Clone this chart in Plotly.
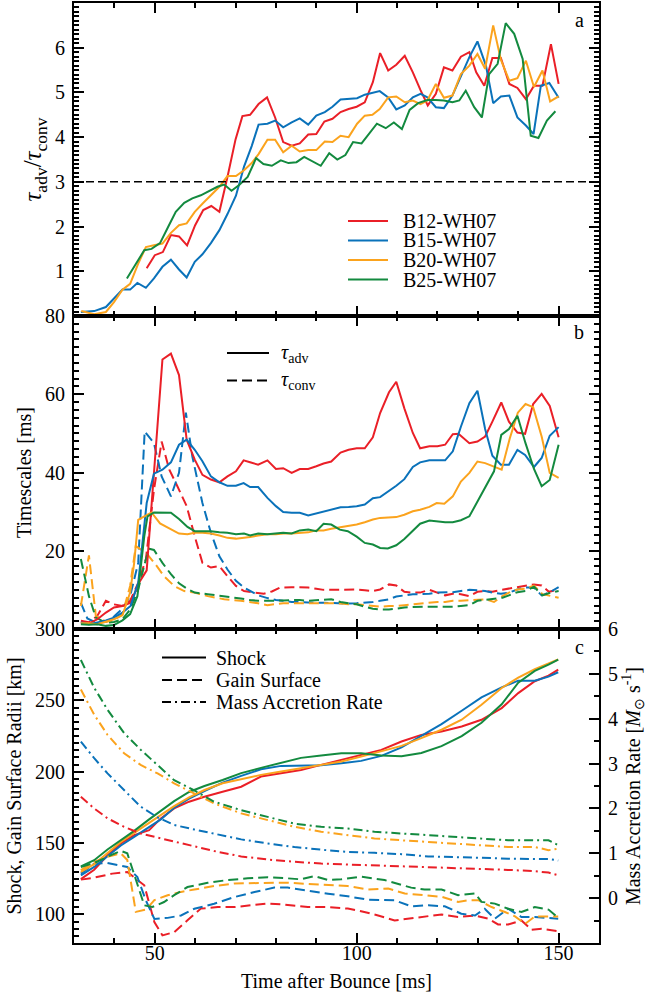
import numpy as np
import plotly.graph_objects as go

FONT = "Liberation Serif"

# ---------------- data ----------------
MODELS = ["B12-WH07", "B15-WH07", "B20-WH07", "B25-WH07"]
COLORS = ["#EA1F27", "#0A72BA", "#FBA31D", "#138A3F"]
THRESHOLD = 3.0

# panel a : tau_adv / tau_conv
a_t_B12 = [48, 50, 52, 54, 56, 58, 60, 62, 64, 66, 68, 70, 71.7, 73.6, 75.7, 77.8, 79.8, 81.8, 83.9, 85.9,
           88, 90, 92, 94, 96, 98, 100, 102, 104, 105.8, 107.8, 109.8, 111.9, 113.9, 115.8, 117.6, 119.6, 121.6,
           123.7, 125.8, 127.9, 129.6, 131.6, 133.6, 135.7, 137.8, 139.8, 141.9, 143.9, 146, 148.1, 150]
a_B12 = [1.07, 1.36, 1.43, 1.81, 1.78, 1.58, 2.03, 2.37, 2.46, 2.33, 3.11, 3.95, 4.47, 4.50, 4.74, 4.89, 4.44,
         3.89, 3.81, 3.86, 4.06, 4.07, 4.35, 4.41, 4.56, 4.63, 4.68, 4.78, 5.23, 5.88, 5.49, 5.62, 5.82, 5.45,
         5.05, 4.71, 4.97, 5.56, 5.49, 5.80, 5.90, 5.45, 5.15, 5.77, 5.77, 5.19, 5.10, 4.85, 5.15, 5.15, 6.08, 5.19]
a_t_B15 = [31.7, 35, 37.9, 39.9, 42, 43.9, 45.7, 47.8, 49.8, 51.9, 54, 56, 57.9, 59.9, 61.8, 63.9, 66, 68, 70.1,
           72.1, 74, 75.7, 77.9, 79.8, 81.8, 83.9, 85.9, 88, 90, 92.1, 94, 96, 98, 100.1, 102, 103.9, 105.7,
           107.8, 109.8, 111.9, 113.9, 115.8, 117.5, 119.6, 121.6, 123.7, 125.8, 127.9, 129.9, 132, 133.8,
           135.7, 137.8, 139.8, 141.9, 143.8, 145.6, 147.7, 150]
a_B15 = [0.09, 0.11, 0.20, 0.39, 0.59, 0.59, 0.74, 0.63, 0.84, 1.10, 1.26, 1.04, 0.86, 1.21, 1.38, 1.63, 1.92,
         2.28, 2.69, 3.34, 3.80, 4.28, 4.30, 4.37, 4.22, 4.33, 4.42, 4.28, 4.48, 4.56, 4.68, 4.84, 4.85, 4.87,
         4.95, 5.00, 5.03, 4.89, 4.62, 4.71, 4.89, 4.97, 4.89, 4.67, 4.65, 4.93, 5.38, 5.79, 6.14, 5.60, 4.76,
         4.91, 4.93, 4.44, 4.26, 4.07, 5.15, 5.21, 4.88]
a_t_B20 = [31.8, 35, 37.9, 39.9, 42, 43.9, 45.9, 47.8, 49.8, 51.9, 54, 56, 57.9, 59.9, 61.8, 63.9, 66, 68, 70.1,
           72.1, 74, 75.7, 77.9, 79.8, 81.8, 83.9, 85.9, 88, 90, 92.1, 94, 96, 98, 100.1, 102, 103.9, 105.7,
           107.8, 109.8, 111.9, 113.9, 115.8, 117.5, 119.6, 121.6, 123.7, 125.8, 127.9, 129.9, 131.8, 133.8,
           135.7, 137.8, 139.8, 141.9, 143.9, 146, 147.9, 150]
a_B20 = [0.11, 0.04, 0.09, 0.31, 0.59, 0.72, 1.17, 1.54, 1.58, 1.62, 1.86, 2.03, 2.07, 2.33, 2.51, 2.70, 2.89,
         3.13, 3.13, 3.26, 3.42, 3.62, 3.94, 3.94, 3.66, 3.81, 3.68, 3.71, 3.71, 3.90, 3.89, 4.03, 4.00, 4.30,
         4.48, 4.50, 4.63, 4.89, 4.91, 4.78, 4.82, 4.74, 4.82, 5.19, 4.88, 4.93, 5.41, 5.60, 5.86, 5.53, 6.50,
         5.73, 5.26, 5.32, 5.71, 5.12, 5.49, 4.80, 4.91]
a_t_B25 = [43.1, 45, 47.4, 49.2, 51.3, 53.3, 55.2, 57.3, 59.3, 61.4, 63.5, 65.5, 67.2, 69, 70.9, 73, 75.1, 76.9,
           79, 81.2, 83.1, 85.1, 87, 89.1, 91.1, 93.2, 95.2, 97.2, 99.1, 101.2, 103.2, 105, 107.2, 109.2, 111.2,
           113.1, 115.2, 117.5, 119.6, 121.6, 123.7, 125.4, 127, 129.1, 131, 132.8, 134.9, 136.9, 139, 141.1,
           143.1, 145, 147.1, 149.2]
a_B25 = [0.84, 1.13, 1.47, 1.50, 1.63, 1.99, 2.33, 2.53, 2.63, 2.70, 2.79, 2.89, 2.94, 2.80, 2.93, 3.11, 3.53,
         3.40, 3.36, 3.48, 3.42, 3.44, 3.56, 3.46, 3.36, 3.64, 3.50, 3.60, 3.89, 3.86, 4.09, 4.30, 4.20, 4.33,
         4.18, 4.61, 4.76, 4.83, 4.83, 4.82, 4.78, 4.82, 5.04, 4.67, 4.44, 5.41, 5.64, 6.55, 6.31, 5.75, 4.03,
         3.98, 4.37, 4.58]

# panel b : timescales [ms]  (solid = tau_adv, dashed = tau_conv)
adv_t_B12 = [31.7, 33.7, 35.8, 37.9, 39.9, 42, 44, 46.1, 48, 51.9, 54, 56, 57.9, 59.9, 61.8, 63.9, 66, 68, 70.1,
             72, 73.6, 75.6, 77.9, 80, 81.8, 83.9, 85.9, 88, 90, 91.8, 93.7, 96, 98, 100, 102, 104, 105.8, 108,
             109.8, 111.8, 113.9, 115.7, 118, 120, 121.9, 123.8, 125.2, 127.9, 129.9, 131.8, 133.6, 135.8,
             137.7, 139.8, 141.7, 143.7, 145.8, 147.8, 150]
adv_B12 = [1.8, 1.4, 2.5, 4.2, 5.5, 5.9, 6.7, 11.8, 15.0, 68.9, 70.4, 64.9, 48.4, 43.3, 39.4, 38.2, 37.5, 39.0,
           40.3, 43.1, 42.6, 42.0, 43.1, 40.9, 41.1, 39.9, 40.9, 40.9, 41.6, 42.3, 42.8, 45.1, 45.8, 46.2, 46.2,
           49.0, 55.2, 60.5, 63.2, 56.4, 50.1, 46.2, 46.7, 46.7, 47.1, 49.8, 49.9, 47.5, 47.9, 49.2, 53.0, 57.9,
           53.0, 50.2, 49.9, 57.5, 60.1, 57.0, 49.0]
adv_t_B15 = [31.7, 33.7, 35.8, 37.9, 39.9, 42, 44, 45.9, 48, 49.8, 51.9, 54, 56, 57.9, 59.9, 61.8, 63.9, 66, 68,
             70.1, 72, 73.6, 75.6, 77.9, 80, 81.8, 83.9, 85.9, 88, 90, 91.8, 93.7, 96, 98, 100, 102, 104, 105.8,
             108, 109.8, 111.8, 113.9, 115.7, 118, 120, 121.9, 123.8, 125.8, 127.9, 129.9, 131.8, 133.6, 135.7,
             137.7, 139.8, 141.7, 143.9, 145.8, 147.8, 150]
adv_B15 = [1.7, 1.2, 1.7, 2.2, 2.9, 4.2, 5.9, 11.8, 32.2, 39.7, 40.7, 42.6, 47.1, 48.4, 45.8, 42.9, 39.0, 37.5,
           36.6, 36.6, 37.3, 36.3, 36.3, 33.5, 31.4, 29.9, 29.7, 29.7, 29.0, 29.5, 29.9, 30.5, 31.1, 31.2, 31.4,
           31.8, 33.4, 33.7, 35.2, 36.6, 38.3, 41.4, 42.6, 43.1, 43.1, 43.1, 45.4, 51.7, 57.7, 60.9, 51.1, 44.3,
           42.0, 42.0, 45.8, 44.5, 41.4, 43.7, 49.4, 51.6]
adv_t_B20 = [31.7, 33.7, 35.8, 37.9, 39.9, 42, 43.9, 44.9, 45.9, 47.4, 49.2, 51.3, 54, 56, 58.1, 59.9, 61.8, 63.9,
             66, 68, 70.1, 72.1, 73.6, 75.6, 77.9, 80, 81.8, 83.9, 85.9, 88, 90, 91.8, 93.7, 96, 98, 100, 102,
             104, 105.8, 108, 109.8, 111.8, 113.9, 115.7, 118, 119.8, 121.7, 123.8, 125.8, 127.9, 129.9, 131.8,
             134, 135.9, 137.9, 139.9, 141.8, 143.7, 145.8, 147.8, 150]
adv_B20 = [1.5, 1.5, 1.2, 1.8, 2.5, 3.5, 9.3, 16.9, 27.9, 28.8, 29.8, 27.0, 25.4, 24.4, 24.2, 24.6, 24.6, 24.4,
           23.9, 23.3, 23.1, 23.3, 23.5, 23.9, 24.2, 24.2, 24.4, 24.4, 24.6, 24.7, 25.2, 25.2, 25.6, 26.0, 26.3,
           26.7, 27.3, 28.0, 28.4, 28.6, 28.6, 29.2, 30.1, 30.5, 31.2, 32.2, 32.0, 33.9, 37.7, 39.9, 42.8, 42.4,
           41.4, 40.7, 48.7, 55.3, 57.5, 56.7, 49.2, 39.9, 38.6]
adv_t_B25 = [31.7, 33.7, 35.8, 37.9, 39.9, 42, 43.9, 45.7, 47.4, 48.2, 49.8, 51.9, 54, 56, 58.1, 59.9, 61.8, 63.9,
             66, 68, 70.1, 72.1, 73.6, 75.6, 77.9, 80, 81.8, 83.9, 85.9, 88, 90, 91.8, 93.7, 95.8, 97.8, 100, 102,
             104, 105.8, 107.7, 109.8, 111.8, 113.9, 115.7, 118, 120, 121.9, 123.8, 125.8, 127.9, 129.9, 131.8,
             134, 135.8, 137.7, 139.8, 141.8, 143.9, 145.8, 147.8, 150]
adv_B25 = [1.2, 1.1, 1.2, 0.8, 1.0, 2.2, 3.8, 8.4, 23.7, 28.8, 29.8, 29.7, 29.7, 28.1, 26.1, 25.0, 25.0, 25.0,
           24.7, 24.6, 24.2, 24.4, 23.9, 24.4, 24.2, 24.4, 24.6, 24.4, 25.2, 25.4, 25.0, 26.9, 26.7, 25.4, 25.0,
           23.6, 22.0, 21.6, 20.7, 20.6, 21.4, 23.0, 25.0, 26.9, 27.7, 27.4, 27.3, 27.3, 27.8, 28.8, 32.6, 36.3,
           40.3, 49.6, 51.1, 54.5, 47.5, 40.9, 36.5, 38.1, 47.1]

conv_t_B12 = [31.7, 33.7, 35.8, 37.9, 39.9, 42, 43.9, 45.9, 47.8, 49.8, 51.7, 53.6, 55.6, 57.9, 59.9, 61.8, 63.9,
              66, 68, 70.1, 72.1, 74.3, 77, 79, 81, 83.9, 85.9, 88, 90, 91.8, 93.7, 96, 98, 100, 102, 104, 105.8,
              108, 109.8, 111.8, 113.9, 115.7, 118, 120, 121.9, 123.8, 125.8, 127.9, 129.9, 131.8, 133.6, 135.7,
              137.7, 139.8, 141.8, 143.9, 145.8, 147.6, 150]
conv_B12 = [2.1, 1.7, 3.4, 7.2, 6.3, 5.9, 7.2, 11.8, 17.8, 35.6, 47.9, 40.7, 36.5, 31.4, 23.7, 16.9, 15.7, 16.1,
            13.5, 11.0, 9.7, 9.3, 9.0, 9.6, 10.6, 10.7, 10.7, 10.6, 10.3, 10.0, 10.0, 10.0, 10.1, 10.1, 9.9, 9.7,
            10.1, 11.4, 11.1, 9.5, 9.3, 9.3, 10.0, 9.3, 8.6, 9.0, 8.9, 8.4, 9.5, 9.7, 9.5, 10.0, 10.3, 10.6, 11.0,
            11.4, 11.1, 9.5, 10.1]
conv_t_B15 = [31.7, 33.3, 35.4, 37.9, 39.9, 42, 43.9, 45.9, 47.5, 49.8, 51.7, 54, 56, 57.7, 59.3, 61.8, 63.9, 66,
              68, 70.1, 72.1, 74, 75.6, 77.9, 80, 81.8, 83.9, 85.9, 88, 90, 91.8, 93.7, 96, 98, 100, 102, 104,
              105.8, 108, 109.8, 111.8, 113.9, 115.7, 118, 120, 121.9, 123.8, 125.8, 127.9, 129.9, 131.8, 133.6,
              135.7, 137.7, 139.8, 141.8, 143.9, 145.8, 147.8, 150]
conv_B15 = [6.7, 2.7, 1.7, 1.8, 3.2, 5.2, 8.4, 16.9, 50.5, 47.5, 39.0, 33.9, 39.9, 55.3, 44.1, 32.2, 24.6, 18.6,
            15.2, 12.3, 10.6, 9.6, 8.6, 7.9, 7.4, 7.2, 6.9, 6.9, 6.7, 6.7, 6.7, 6.6, 6.5, 6.5, 6.6, 6.7, 6.9, 7.2,
            7.6, 8.3, 8.6, 8.9, 8.9, 9.0, 9.3, 9.3, 9.4, 9.7, 10.0, 9.9, 9.7, 9.3, 9.0, 9.3, 10.1, 10.6, 10.6, 8.6,
            9.4, 10.7]
conv_t_B20 = [31.7, 33.7, 35.4, 37.9, 39.9, 42, 43.9, 45.3, 48, 50.2, 52.3, 54.8, 57.3, 59.8, 63.1, 67.2, 71.3,
              73.6, 75.6, 77.9, 80, 81.8, 83.9, 85.9, 88, 90, 91.8, 93.7, 96, 98, 100, 102, 104, 105.8, 108, 109.8,
              111.8, 113.9, 115.7, 118, 120, 121.9, 123.8, 125.8, 127.9, 129.9, 131.9, 134, 136.1, 137.7, 139.8,
              141.8, 143.9, 146, 148, 150]
conv_B20 = [5.9, 18.8, 3.4, 1.8, 2.3, 3.8, 11.0, 21.2, 19.3, 16.5, 13.5, 11.0, 9.7, 9.3, 8.4, 7.6, 7.2, 6.9, 6.6,
            6.1, 6.3, 6.6, 6.6, 6.6, 6.7, 6.7, 6.7, 6.6, 6.5, 6.3, 6.3, 6.1, 5.9, 5.7, 5.9, 5.9, 6.1, 6.3, 6.6,
            6.7, 6.9, 6.9, 7.2, 7.2, 7.4, 7.6, 7.6, 6.9, 8.4, 9.3, 10.1, 10.3, 11.1, 8.9, 8.4, 8.0]
conv_t_B25 = [31.7, 33.7, 35.4, 37.9, 39.9, 42, 43.9, 45.9, 47.8, 48.6, 49.8, 51.9, 54, 56, 58.1, 59.9, 63.1, 67.2,
              71.3, 73.6, 75.6, 77.9, 80, 81.8, 83.9, 85.9, 88, 90, 91.8, 93.7, 96, 98, 100, 102, 104, 105.8, 108,
              109.8, 111.8, 113.9, 115.7, 118, 120, 121.9, 123.8, 125.8, 127.9, 129.9, 131.9, 134, 136.1, 137.7,
              139.8, 141.8, 143.9, 146, 148, 150]
conv_B25 = [17.9, 8.4, 2.9, 1.6, 1.8, 2.5, 5.0, 10.1, 17.8, 20.5, 20.2, 16.9, 14.0, 11.7, 10.2, 9.3, 8.9, 8.4, 7.8,
            7.4, 7.2, 7.2, 7.2, 7.3, 7.4, 7.4, 7.2, 7.4, 7.6, 7.6, 6.9, 6.6, 6.3, 5.7, 5.2, 5.0, 5.0, 5.2, 5.5,
            5.6, 5.7, 5.7, 5.7, 5.7, 5.7, 5.9, 6.1, 7.2, 7.4, 7.7, 8.0, 8.6, 9.4, 9.7, 10.8, 8.6, 9.3, 9.7]

# panel c : shock radius [km], gain radius [km], mass accretion rate [Msun/s]
shock_t = [31.7, 35, 38.3, 41.6, 44.9, 48.6, 51.5, 54.8, 58.5, 62.3, 66.8, 71.4, 76.3, 81.3, 86.2, 91.2, 96.2,
           101.1, 106.1, 111.1, 116, 121, 126, 130.9, 135.9, 140, 144.1, 147.5, 149.9]
shock_B12 = [124.8, 131.3, 141.5, 149.7, 155.6, 159.1, 167.3, 174.3, 179, 182.5, 186, 189.5, 196.6, 198.9, 201.2,
             204.8, 208.3, 211.8, 215.3, 221.2, 225.8, 228.2, 231.7, 236.4, 244.6, 255.1, 263.4, 267.3, 271.5]
shock_B15 = [127.4, 133.3, 140.8, 148.3, 154.4, 161.4, 166.6, 174.8, 181.2, 186.5, 192.4, 197.1, 201.7, 204.1,
             204.5, 204.5, 205.9, 207.6, 211.1, 217, 225.1, 233.3, 242.7, 252.1, 259.1, 263.8, 263.8, 266.6, 269.7]
shock_B20 = [129.8, 135.2, 143.1, 150.8, 157.2, 164.2, 169.6, 175.9, 182.1, 187.2, 191.9, 194.8, 197.8, 200.1,
             202.4, 204.8, 207.1, 210.6, 214.2, 218.1, 223.5, 229.4, 236.4, 246.9, 258.7, 265.9, 271.8, 275.8, 278.6]
shock_B25 = [133.7, 138.0, 145.5, 152.0, 158.6, 166.6, 172.4, 179.4, 185.8, 190.0, 194.2, 199, 202.7, 206.1, 209.7,
             211.4, 212.9, 212.9, 211.4, 210.9, 213.1, 217.9, 224.9, 234.3, 247.2, 262.4, 270.6, 275.1, 278.6]

gain_t_B12 = [31.7, 35, 39.5, 43.2, 47.4, 49.9, 51.9, 54.8, 58.1, 61.4, 65.6, 69.7, 73.8, 78, 82.1, 87.9, 92.9,
              97.8, 101.1, 105.3, 109.4, 112.7, 116, 121, 125.1, 129.3, 132.6, 135, 137.5, 140.8, 143.3, 145.8, 149.9]
gain_B12 = [124.4, 125.8, 128.6, 129.8, 120.4, 94.7, 85.3, 87.6, 95.9, 104.1, 105.2, 105.2, 106.4, 107.6, 106.9,
            105.2, 105.2, 104.1, 102.3, 99.3, 95.8, 97, 98.2, 100, 98.2, 99.3, 97, 93, 93, 95.8, 89.2, 89.9, 88.3]
gain_t_B15 = [31.7, 35, 38.3, 43.2, 45.7, 47.8, 49.9, 53.2, 56.5, 59.8, 64.7, 69.7, 74.7, 79.6, 82.9, 87.9, 92.9,
              97.8, 102.8, 109.4, 113.5, 117.7, 121.8, 125.9, 129.3, 131.7, 134.2, 137.5, 140.8, 144.1, 149.9]
gain_B15 = [128.6, 135.6, 136.1, 133.3, 126.2, 109.8, 96.9, 97.6, 99.3, 104.0, 107.5, 112.2, 115.7, 118.8, 118.8,
            116.4, 114.5, 112.7, 110.3, 109.9, 105.7, 106.4, 105.7, 100.5, 99.3, 104.0, 97, 104.0, 98.2, 98.2, 97]
gain_t_B20 = [31.7, 35, 38.3, 41.6, 43.2, 45.3, 47.8, 49.9, 53.2, 56.5, 59.8, 64.7, 69.7, 74.7, 79.6, 82.9, 87.9,
              92.9, 97.8, 102.8, 107.8, 111.9, 116.8, 121, 125.1, 127.6, 130.1, 133.4, 136.7, 139.2, 141.7, 144.1,
              149.9]
gain_B20 = [131, 136.9, 140.4, 142.8, 138.1, 101.8, 103.4, 110, 113.5, 115.8, 117.5, 119.9, 121.7, 122.2, 122.2,
            122.2, 121.3, 120.6, 119.9, 117.5, 118.2, 114.7, 113.5, 112.4, 108.8, 110, 110, 105.2, 101.7, 98.6,
            93.4, 98.6, 98.6]
gain_t_B25 = [31.7, 35, 38.3, 41.6, 43.2, 45.7, 47.4, 49.4, 52.3, 54.8, 58.1, 63.1, 68, 73, 78, 82.9, 86.2, 89.6,
              92.9, 96.2, 101.1, 106.9, 110.2, 113.5, 116.8, 121, 125.1, 129.3, 130.9, 134.2, 137.5, 140.8, 144.1,
              147.5, 149.9]
gain_B25 = [133.3, 136.1, 140.4, 144.6, 142.8, 121.7, 106.4, 105.2, 108.7, 113.5, 119.2, 122.2, 124.1, 125.3, 126,
            125.3, 124.6, 126.9, 124.1, 124.6, 126.5, 124.1, 121.7, 118.8, 117.5, 117.5, 113.5, 114.7, 108.8, 107.6,
            104.0, 101.7, 105.2, 103.4, 97.7]

mdot_t = [31.7, 35, 38.3, 42.4, 46.5, 50.7, 54.8, 59.8, 64.7, 71.4, 78, 84.6, 91.2, 97.8, 104.4, 111.1, 117.7,
          124.3, 130.9, 137.5, 144.1, 147.5, 149.9]
mdot_B12 = [2.26, 2.0, 1.78, 1.59, 1.44, 1.35, 1.25, 1.16, 1.05, 0.93, 0.86, 0.81, 0.77, 0.75, 0.73, 0.72, 0.69,
            0.68, 0.66, 0.63, 0.60, 0.57, 0.51]
mdot_B15 = [3.49, 3.12, 2.78, 2.41, 2.04, 1.80, 1.63, 1.53, 1.44, 1.31, 1.22, 1.14, 1.08, 1.03, 1.01, 0.98, 0.93,
            0.92, 0.90, 0.88, 0.88, 0.87, 0.84]
mdot_B20 = [4.65, 4.09, 3.64, 3.23, 2.97, 2.78, 2.56, 2.34, 2.11, 1.89, 1.74, 1.59, 1.48, 1.40, 1.33, 1.29, 1.25,
            1.22, 1.18, 1.14, 1.14, 1.07, 1.10]
mdot_B25 = [5.31, 4.69, 4.20, 3.68, 3.31, 2.97, 2.63, 2.40, 2.15, 1.96, 1.81, 1.66, 1.59, 1.55, 1.48, 1.44, 1.40,
            1.37, 1.33, 1.29, 1.29, 1.29, 1.18]

# ticks
X_RANGE = [30, 160]
X_TICKS = [50, 100, 150]
YA_RANGE, YA_TICKS = [0, 7], [1, 2, 3, 4, 5, 6]
YB_RANGE, YB_TICKS = [0, 80], [20, 40, 60, 80]
YC_RANGE, YC_TICKS = [80, 300], [100, 150, 200, 250, 300]
YR_RANGE, YR_TICKS = [-1, 6], [0, 1, 2, 3, 4, 5, 6]

# ---------------- layout geometry ----------------
W, H = 647, 998
ML, MR, MT, MB = 74, 48, 3, 55
PW, PH = W - ML - MR, H - MT - MB


def X(px):
    return (px - ML) / PW


def Y(py):
    return 1 - (py - MT) / PH


DOM_A = [Y(316), 1]
DOM_B = [Y(629), Y(316)]
DOM_C = [0, Y(629)]

DASH = "10px,5px"
DASHDOT = "9px,4px,2px,4px"
LW = 2.0

fig = go.Figure()

A = [(a_t_B12, a_B12), (a_t_B15, a_B15), (a_t_B20, a_B20), (a_t_B25, a_B25)]
ADV = [(adv_t_B12, adv_B12), (adv_t_B15, adv_B15), (adv_t_B20, adv_B20), (adv_t_B25, adv_B25)]
CONV = [(conv_t_B12, conv_B12), (conv_t_B15, conv_B15), (conv_t_B20, conv_B20), (conv_t_B25, conv_B25)]
SHOCK = [shock_B12, shock_B15, shock_B20, shock_B25]
GAIN = [(gain_t_B12, gain_B12), (gain_t_B15, gain_B15), (gain_t_B20, gain_B20), (gain_t_B25, gain_B25)]
MDOT = [mdot_B12, mdot_B15, mdot_B20, mdot_B25]

for i, m in enumerate(MODELS):
    c = COLORS[i]
    fig.add_trace(go.Scatter(x=A[i][0], y=A[i][1], mode="lines", name=m, xaxis="x", yaxis="y",
                             line=dict(color=c, width=LW), showlegend=False))
for i, m in enumerate(MODELS):
    c = COLORS[i]
    fig.add_trace(go.Scatter(x=CONV[i][0], y=CONV[i][1], mode="lines", name=m + " tau_conv", xaxis="x2",
                             yaxis="y2", line=dict(color=c, width=LW, dash=DASH), showlegend=False))
for i, m in enumerate(MODELS):
    c = COLORS[i]
    fig.add_trace(go.Scatter(x=ADV[i][0], y=ADV[i][1], mode="lines", name=m + " tau_adv", xaxis="x2",
                             yaxis="y2", line=dict(color=c, width=LW), showlegend=False))
for i, m in enumerate(MODELS):
    c = COLORS[i]
    fig.add_trace(go.Scatter(x=GAIN[i][0], y=GAIN[i][1], mode="lines", name=m + " gain", xaxis="x3",
                             yaxis="y3", line=dict(color=c, width=LW, dash=DASH), showlegend=False))
    fig.add_trace(go.Scatter(x=shock_t, y=SHOCK[i], mode="lines", name=m + " shock", xaxis="x3",
                             yaxis="y3", line=dict(color=c, width=LW), showlegend=False))
for i, m in enumerate(MODELS):
    c = COLORS[i]
    fig.add_trace(go.Scatter(x=mdot_t, y=MDOT[i], mode="lines", name=m + " mdot", xaxis="x3",
                             yaxis="y4", line=dict(color=c, width=LW, dash=DASHDOT), showlegend=False))

TICKFONT = dict(family=FONT, size=20, color="black")
TITLEFONT = dict(family=FONT, size=20, color="black")


def minor_vals(lo, hi, step):
    return list(np.round(np.arange(lo, hi + step / 2, step), 6))


def xaxis(anchor, labels, title=None):
    d = dict(range=X_RANGE, domain=[0, 1], anchor=anchor, tickmode="array", tickvals=X_TICKS,
             ticks="inside", ticklen=10, tickwidth=1.5, tickcolor="black",
             minor=dict(tickmode="array", tickvals=minor_vals(30, 160, 10), ticks="inside", ticklen=5,
                        tickwidth=1.5, tickcolor="black"),
             showline=True, linecolor="black", linewidth=2, mirror="ticks", showgrid=False, zeroline=False,
             showticklabels=labels, tickfont=TICKFONT, ticklabelstandoff=-9)
    if title:
        d["title"] = dict(text=title, font=TITLEFONT, standoff=11)
    return d


def yaxis(domain, anchor, rng, ticks, minor_step, title, mirror="ticks", standoff=8, tfont=TITLEFONT):
    return dict(range=rng, domain=domain, anchor=anchor, tickmode="array", tickvals=ticks,
                ticks="inside", ticklen=10, tickwidth=1.5, tickcolor="black",
                minor=dict(tickmode="array", tickvals=minor_vals(rng[0], rng[1], minor_step), ticks="inside",
                           ticklen=5, tickwidth=1.5, tickcolor="black"),
                showline=True, linecolor="black", linewidth=2, mirror=mirror, showgrid=False, zeroline=False,
                tickfont=TICKFONT, ticklabelstandoff=3,
                title=dict(text=title, font=tfont, standoff=standoff))


fig.update_layout(
    width=W, height=H, margin=dict(l=ML, r=MR, t=MT, b=MB, autoexpand=False),
    paper_bgcolor="white", plot_bgcolor="white", showlegend=False,
    font=dict(family=FONT, size=20, color="black"),
    xaxis=xaxis("y", False),
    xaxis2=xaxis("y2", False),
    xaxis3=xaxis("y3", True, "Time after Bounce [ms]"),
    yaxis=yaxis(DOM_A, "x", YA_RANGE, YA_TICKS, 0.1,
                "<i>τ</i><sub>adv</sub>/<i>τ</i><sub>conv</sub>", standoff=6,
                tfont=dict(family=FONT, size=25, color="black")),
    yaxis2=yaxis(DOM_B, "x2", YB_RANGE, YB_TICKS, 2, "Timescales [ms]"),
    yaxis3=yaxis(DOM_C, "x3", YC_RANGE, YC_TICKS, 5, "Shock, Gain Surface Radii [km]", mirror=True),
    yaxis4=dict(range=YR_RANGE, overlaying="y3", side="right", anchor="x3", tickmode="array",
                tickvals=YR_TICKS, ticks="inside", ticklen=10, tickwidth=1.5, tickcolor="black",
                minor=dict(tickmode="array", tickvals=minor_vals(-1, 6, 0.5), ticks="inside", ticklen=5,
                           tickwidth=1.5, tickcolor="black"),
                showline=True, linecolor="black", linewidth=2, showgrid=False, zeroline=False,
                tickfont=TICKFONT, ticklabelstandoff=3,
                title=dict(text="Mass Accretion Rate [<i>M</i><sub>⊙</sub> s<sup>-1</sup>]", font=TITLEFONT,
                           standoff=10)),
)

shapes = [dict(type="line", xref="x domain", yref="y", x0=0, x1=1, y0=THRESHOLD, y1=THRESHOLD,
               line=dict(color="black", width=1.5, dash="8px,4px"))]
annotations = []


def legend_row(x0, x1, xt, py, text, color, dash):
    shapes.append(dict(type="line", xref="paper", yref="paper", x0=X(x0), x1=X(x1), y0=Y(py), y1=Y(py),
                       line=dict(color=color, width=LW, dash=dash)))
    annotations.append(dict(xref="paper", yref="paper", x=X(xt), y=Y(py), text=text, showarrow=False,
                            xanchor="left", yanchor="middle", font=dict(family=FONT, size=20, color="black")))


for i, m in enumerate(MODELS):
    legend_row(348, 388, 401, [221, 240.5, 260, 279.5][i], m, COLORS[i], "solid")

legend_row(227, 269, 279, 353, "<i>τ</i><sub>adv</sub>", "black", "solid")
legend_row(227, 269, 279, 380.5, "<i>τ</i><sub>conv</sub>", "black", DASH)

legend_row(162, 206, 214, 657.5, "Shock", "black", "solid")
legend_row(162, 206, 214, 680, "Gain Surface", "black", DASH)
legend_row(162, 206, 214, 702, "Mass Accretion Rate", "black", DASHDOT)

for lab, py in [("a", 20), ("b", 332), ("c", 647)]:
    annotations.append(dict(xref="paper", yref="paper", x=X(579), y=Y(py), text=lab, showarrow=False,
                            xanchor="center", yanchor="middle", font=dict(family=FONT, size=20, color="black")))

fig.update_layout(shapes=shapes, annotations=annotations)
fig.write_html("out.html")
